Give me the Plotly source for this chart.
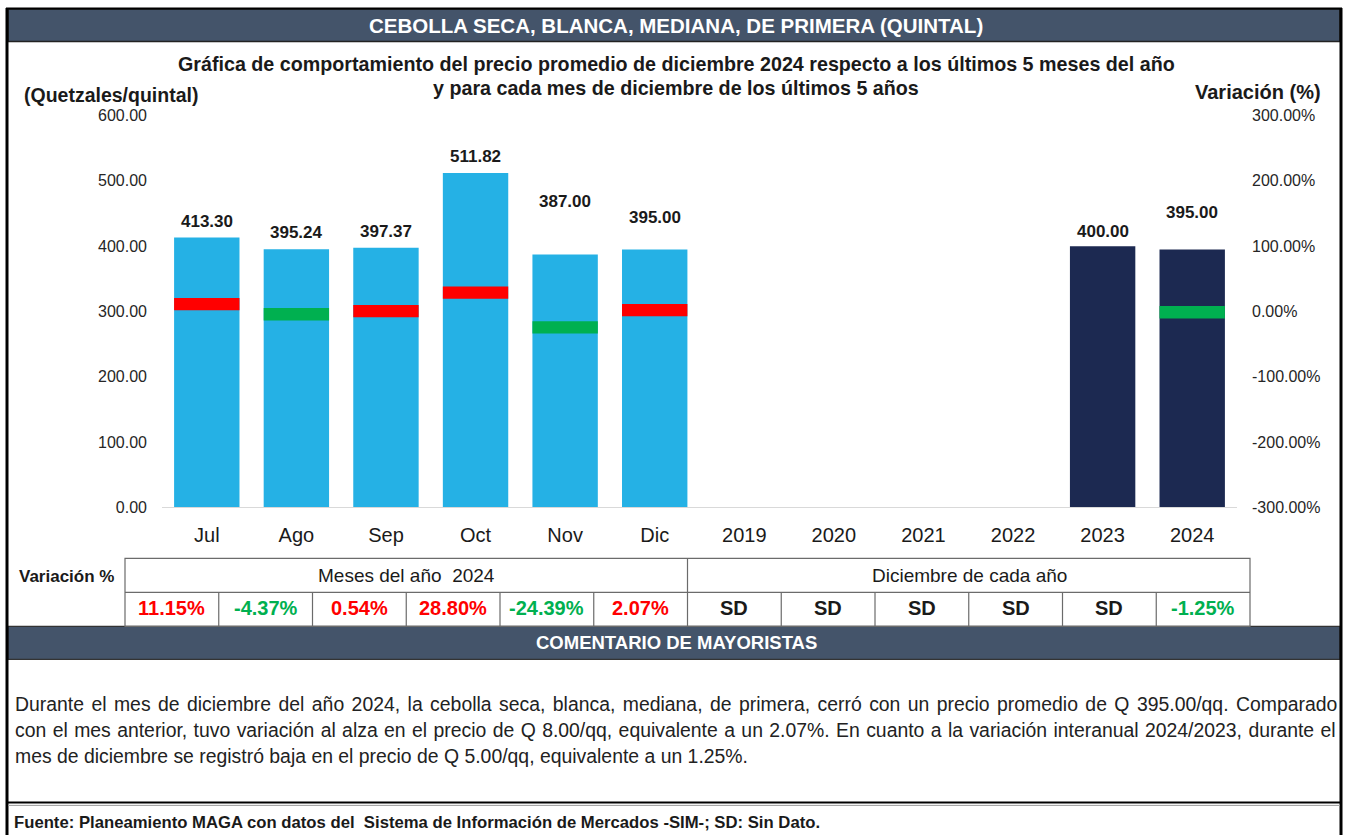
import plotly.graph_objects as go

# ---------------- data ----------------
categories = ["Jul", "Ago", "Sep", "Oct", "Nov", "Dic", "2019", "2020", "2021", "2022", "2023", "2024"]
month_prices = [413.30, 395.24, 397.37, 511.82, 387.00, 395.00]
year_prices = [None, None, None, None, 400.00, 395.00]
month_var = [11.15, -4.37, 0.54, 28.80, -24.39, 2.07]
year_var = [None, None, None, None, None, -1.25]
year_var_text = ["SD", "SD", "SD", "SD", "SD", "-1.25%"]
left_ticks = [0, 100, 200, 300, 400, 500, 600]
right_ticks = [-300, -200, -100, 0, 100, 200, 300]

# ---------------- style ----------------
W, H = 1346, 844
OFF, SC = 8.5, 0.98   # page offset / vertical scale observed in the viewer
FONT = "Liberation Sans, Arial, sans-serif"
LIGHT = "#25B1E5"
NAVY = "#1C2951"
RED = "#FF0000"
GREEN = "#00B050"
BAND = "#44546A"
TXT = "#1a1a1a"
label_shift = [16, 17, 16, 17, 53, 32, 0, 0, 0, 0, 15, 37]
mark_half = 9.5  # half thickness of variation mark (in % units)


def py(p):
    return 1 - ((p - OFF) / SC) / H


def px(p):
    return p / W


def note(x, y, text, size, color=TXT, xanchor="center"):
    return dict(x=px(x), y=py(y), xref="paper", yref="paper", xanchor=xanchor, yanchor="middle",
                text=text, showarrow=False, font=dict(family=FONT, size=size, color=color))


prices = month_prices + year_prices
variations = month_var + year_var
bar_colors = [LIGHT] * len(month_prices) + [NAVY] * len(year_prices)
var_colors = [None if v is None else (RED if v > 0 else GREEN) for v in variations]

fig = go.Figure()
fig.add_trace(go.Bar(x=categories, y=prices, marker=dict(color=bar_colors, line=dict(width=0)),
                     width=0.73, yaxis="y", showlegend=False, hoverinfo="x+y"))
fig.add_trace(go.Bar(x=categories,
                     y=[None if v is None else 2 * mark_half for v in variations],
                     base=[None if v is None else v - mark_half for v in variations],
                     marker=dict(color=[c if c else "rgba(0,0,0,0)" for c in var_colors], line=dict(width=0)),
                     width=0.73, yaxis="y2", showlegend=False, hoverinfo="skip"))

annotations = []
for i, (v, s) in enumerate(zip(prices, label_shift)):
    if v is None:
        continue
    annotations.append(dict(x=i, y=v, xref="x", yref="y", text=f"<b>{v:.2f}</b>", showarrow=False,
                            xanchor="center", yanchor="middle", yshift=s,
                            font=dict(family=FONT, size=17, color=TXT)))

shapes = []
# header band
shapes.append(dict(type="rect", xref="paper", yref="paper", x0=px(8), x1=px(1340), y0=py(42), y1=py(9.5),
                   fillcolor=BAND, line=dict(color="#222222", width=1.5)))
# comment band
shapes.append(dict(type="rect", xref="paper", yref="paper", x0=px(8), x1=px(1340), y0=py(660), y1=py(627),
                   fillcolor=BAND, line=dict(color="#333333", width=1.2)))
# outer frame lines
shapes.append(dict(type="line", xref="paper", yref="paper", x0=px(7), x1=px(7), y0=0, y1=1,
                   line=dict(color="black", width=3)))
shapes.append(dict(type="line", xref="paper", yref="paper", x0=px(1341), x1=px(1341), y0=0, y1=1,
                   line=dict(color="black", width=3)))
shapes.append(dict(type="line", xref="paper", yref="paper", x0=px(6), x1=px(1342), y0=py(9), y1=py(9),
                   line=dict(color="black", width=2)))
# separator above footer
shapes.append(dict(type="line", xref="paper", yref="paper", x0=px(8), x1=px(1340), y0=py(803), y1=py(803),
                   line=dict(color="black", width=2)))
shapes.append(dict(type="line", xref="paper", yref="paper", x0=px(8), x1=px(1340), y0=py(806), y1=py(806),
                   line=dict(color="#9a9a9a", width=1)))

# table
t_left, t_mid, t_right = 125, 688, 1250
t_top, t_row, t_bot = 559, 593, 627
tcol = "#6b6b6b"
shapes.append(dict(type="rect", xref="paper", yref="paper", x0=px(t_left), x1=px(t_right), y0=py(t_bot), y1=py(t_top),
                   line=dict(color=tcol, width=1.2)))
shapes.append(dict(type="line", xref="paper", yref="paper", x0=px(t_left), x1=px(t_right), y0=py(t_row), y1=py(t_row),
                   line=dict(color=tcol, width=1.2)))
ncell = len(categories)
cw = (t_right - t_left) / ncell
for i in range(1, ncell):
    xx = t_left + i * cw
    top = t_top if i == 6 else t_row
    shapes.append(dict(type="line", xref="paper", yref="paper", x0=px(xx), x1=px(xx), y0=py(t_bot), y1=py(top),
                       line=dict(color=tcol, width=1.2)))

# table texts
annotations.append(note(17, 577, "<b>Variación %</b>", 17, xanchor="left"))
annotations.append(note((t_left + t_mid) / 2, 576, "Meses del año  2024", 19))
annotations.append(note((t_mid + t_right) / 2, 576, "Diciembre de cada año", 19))
cell_texts = [f"{v:.2f}%" for v in month_var] + year_var_text
for i, t in enumerate(cell_texts):
    v = variations[i]
    col = TXT if v is None else (RED if v > 0 else GREEN)
    annotations.append(note(t_left + (i + 0.5) * cw, 609, f"<b>{t}</b>", 20, color=col))

# titles
annotations.append(note(676, 26, "<b>CEBOLLA SECA, BLANCA, MEDIANA, DE PRIMERA (QUINTAL)</b>", 20.5, color="white"))
annotations.append(note(676, 65, "<b>Gráfica de comportamiento del precio promedio de diciembre 2024 respecto a los últimos 5 meses del año</b>", 19.7))
annotations.append(note(676, 89, "<b>y para cada mes de diciembre de los últimos 5 años</b>", 19.7))
annotations.append(note(22, 96, "<b>(Quetzales/quintal)</b>", 19.5, xanchor="left"))
annotations.append(note(1323, 93, "<b>Variación (%)</b>", 20, xanchor="right"))
annotations.append(note(676, 643, "<b>COMENTARIO DE MAYORISTAS</b>", 18.5, color="white"))

comment_lines = [
    "Durante el mes de diciembre del año 2024, la cebolla seca, blanca, mediana, de primera, cerró con un precio promedio de Q 395.00/qq. Comparado",
    "con el mes anterior, tuvo variación al alza en el precio de Q 8.00/qq, equivalente a un 2.07%. En cuanto a la variación interanual 2024/2023, durante el",
    "mes de diciembre se registró baja en el precio de Q 5.00/qq, equivalente a un 1.25%.",
]
word_spacing = [2.05, 1.0, 0]
for k, line in enumerate(comment_lines):
    txt = f"<span style='word-spacing:{word_spacing[k]}px'>{line}</span>" if word_spacing[k] else line
    annotations.append(note(13, 705 + 26 * k, txt, 19.4, color="#222222", xanchor="left"))
annotations.append(note(12, 823, "<b>Fuente: Planeamiento MAGA con datos del  Sistema de Información de Mercados -SIM-; SD: Sin Dato.</b>",
                        16.7, xanchor="left"))

fig.update_layout(
    width=W, height=H, margin=dict(l=0, r=0, t=0, b=0),
    paper_bgcolor="white", plot_bgcolor="rgba(0,0,0,0)",
    barmode="overlay",
    xaxis=dict(domain=[px(162), px(1237)], type="category", categoryorder="array", categoryarray=categories,
               range=[-0.5, len(categories) - 0.5], autorange=False,
               showline=True, linecolor="#D9D9D9", linewidth=1, ticks="", showgrid=False,
               tickfont=dict(family=FONT, size=20, color=TXT), ticklabelstandoff=10),
    yaxis=dict(domain=[py(508), py(116)], range=[0, 600], autorange=False, tickvals=left_ticks,
               ticktext=[f"{v:.2f}" for v in left_ticks], showgrid=False, zeroline=False, showline=False,
               tickfont=dict(family=FONT, size=16, color="#262626"), ticklabelstandoff=14),
    yaxis2=dict(overlaying="y", side="right", range=[-300, 300], autorange=False, tickvals=right_ticks,
                ticktext=[f"{v:.2f}%" for v in right_ticks], showgrid=False, zeroline=False, showline=False,
                tickfont=dict(family=FONT, size=16, color="#262626"), ticklabelstandoff=14),
    shapes=shapes, annotations=annotations,
)

fig.write_html(
    "out.html",
    config={"displayModeBar": False},
    post_script=("document.documentElement.style.margin='0';document.documentElement.style.padding='0';"
                 "document.body.style.margin='0';document.body.style.padding='0';"
                 "document.body.style.overflow='hidden';document.documentElement.style.overflow='hidden';"
                 "document.body.style.background='linear-gradient(#cfcfcf, #ffffff 8px)';"),
)
